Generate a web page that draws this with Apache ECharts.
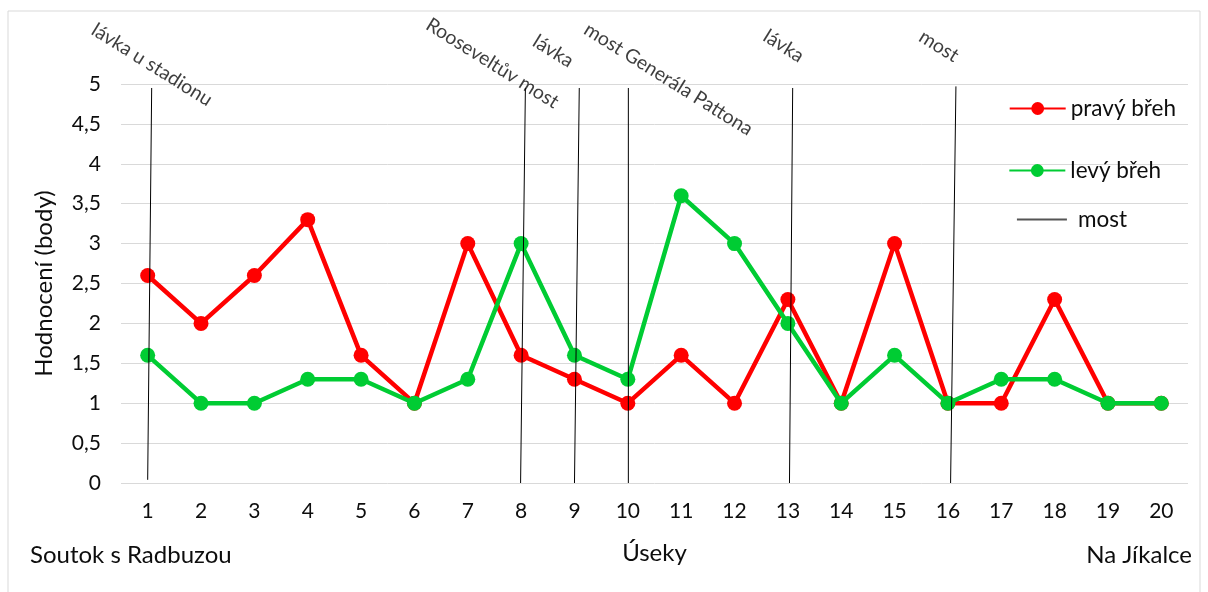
<!DOCTYPE html>
<html><head><meta charset="utf-8">
<script src="https://cdn.jsdelivr.net/npm/echarts@6/dist/echarts.min.js"></script>
<style>html,body{margin:0;padding:0;background:#fff}#c{width:1208px;height:592px}</style>
</head><body><div id="c"></div>
<script>
const categories = ['1','2','3','4','5','6','7','8','9','10','11','12','13','14','15','16','17','18','19','20'];
const pravyBreh = [2.6,2.0,2.6,3.3,1.6,1.0,3.0,1.6,1.3,1.0,1.6,1.0,2.3,1.0,3.0,1.0,1.0,2.3,1.0,1.0];
const levyBreh  = [1.6,1.0,1.0,1.3,1.3,1.0,1.3,3.0,1.6,1.3,3.6,3.0,2.0,1.0,1.6,1.0,1.3,1.3,1.0,1.0];
// bridges: [x at bottom, x at top] in category units (1..20)
const bridgeNames = ['lávka u stadionu','Rooseveltův most','lávka','most Generála Pattona','lávka','most'];
const bridgeBottomX = [1.0, 7.99, 9.0, 10.01, 13.03, 16.05];
const bridgeTopX    = [1.075, 8.08, 9.09, 10.01, 13.09, 16.15];
const bridgeBottomY = [0.04, 0, 0, 0, 0, 0];
const bridgeTopY    = [4.95, 4.95, 4.95, 4.95, 4.95, 4.97];
const labelX = [1.08, 7.46, 8.6, 10.76, 12.92, 15.83];
const labelY = [5.24, 5.26, 5.41, 5.06, 5.475, 5.475];
const startLabel = 'Soutok s Radbuzou';
const endLabel = 'Na Jíkalce';

const FONT = 'Lato, "Open Sans", sans-serif';
const TXT = '#0d0d0d';
const chart = echarts.init(document.getElementById('c'), null, {renderer:'canvas'});

const bridgeSeries = bridgeNames.map((n,i)=>({
  name: 'most', type:'line', xAxisIndex:1, yAxisIndex:0,
  data: [[bridgeBottomX[i], bridgeBottomY[i]], [bridgeTopX[i], bridgeTopY[i]]],
  symbol:'none', lineStyle:{color:'#000', width:1}, itemStyle:{color:'#555'}, z:10,
  silent:true, clip:false
}));

chart.setOption({
  animation:false,
  textStyle:{fontFamily:FONT},
  graphic:[
    {type:'rect', shape:{x:8, y:11, width:1192, height:600}, style:{fill:'none', stroke:'#d9d9d9', lineWidth:1}},
    {type:'text', left:30, top:543, style:{text:startLabel, fontSize:24, fill:TXT, fontFamily:FONT}},
    {type:'text', right:16, top:543, style:{text:endLabel, fontSize:24, fill:TXT, fontFamily:FONT}}
  ],
  grid:{left:121, right:20, top:84, bottom:109, containLabel:false},
  legend:[
    {data:[{name:'pravý břeh'}], right:27, top:92, itemWidth:56, itemHeight:16, itemGap:4, textStyle:{fontSize:22.5, color:TXT, fontFamily:FONT}},
    {data:[{name:'levý břeh'}], right:42, top:154, itemWidth:56, itemHeight:16, textStyle:{fontSize:22.5, color:TXT, fontFamily:FONT}},
    {data:[{name:'most', icon:'path://M0,0L50,0L50,2L0,2Z'}], right:76, top:203, itemWidth:50, itemHeight:2, textStyle:{fontSize:22.5, color:TXT, fontFamily:FONT, padding:[0,0,0,6]}}
  ],
  xAxis:[
    {type:'category', data:categories, boundaryGap:true,
     axisLine:{show:false}, axisTick:{show:false},
     axisLabel:{fontSize:21, color:TXT, margin:18, fontFamily:FONT},
     name:'Úseky', nameLocation:'middle', nameGap:58, nameTextStyle:{fontSize:24, color:TXT, fontFamily:FONT}},
    {type:'value', min:0.5, max:20.5, show:false}
  ],
  yAxis:[{type:'value', min:0, max:5, interval:0.5,
    axisLine:{show:false}, axisTick:{show:false},
    splitLine:{lineStyle:{color:'#d9d9d9', width:1}},
    axisLabel:{fontSize:21, color:TXT, margin:20, fontFamily:FONT, formatter:v=>String(v).replace('.',',')},
    name:'Hodnocení (body)', nameLocation:'middle', nameGap:65, nameRotate:90,
    nameTextStyle:{fontSize:24, color:TXT, fontFamily:FONT}}],
  series:[
    {name:'pravý břeh', type:'line', data:pravyBreh, symbol:'circle', symbolSize:15,
     lineStyle:{color:'#ff0000', width:4.5}, itemStyle:{color:'#ff0000'}, z:3},
    {name:'levý břeh', type:'line', data:levyBreh, symbol:'circle', symbolSize:15,
     lineStyle:{color:'#00cc33', width:4.5}, itemStyle:{color:'#00cc33'}, z:4},
    ...bridgeSeries,
    {name:'labels', type:'scatter', xAxisIndex:1, yAxisIndex:0, clip:false, symbolSize:0, silent:true,
     data: labelX.map((x,i)=>({value:[x, labelY[i]], name:bridgeNames[i]})),
     label:{show:true, position:'inside', formatter:p=>p.name, rotate:-32, fontSize:19.5, color:TXT, fontFamily:FONT, align:'center', verticalAlign:'middle'}, z:11}
  ]
});
</script>
</body></html>
